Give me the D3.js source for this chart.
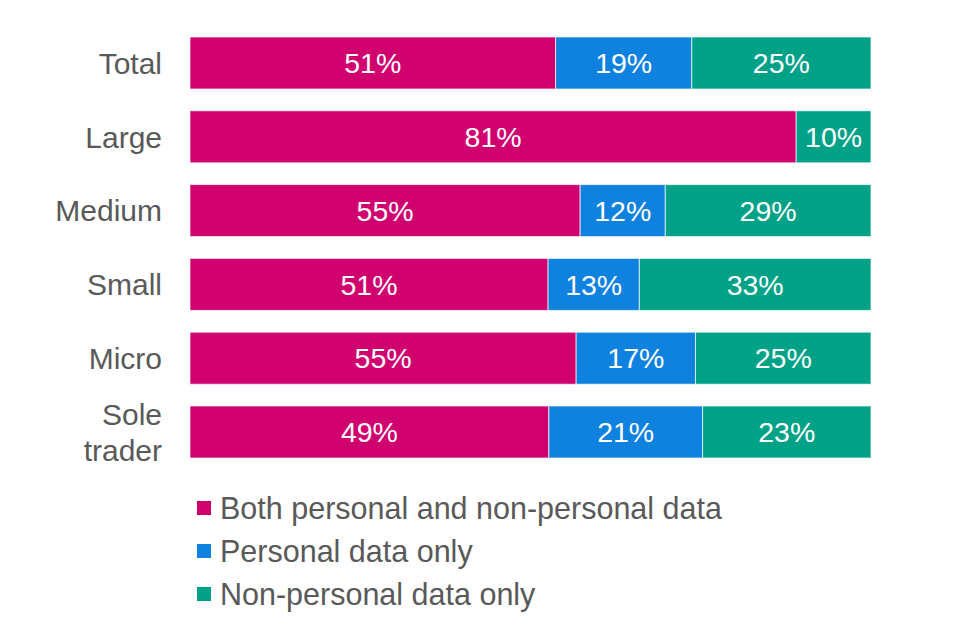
<!DOCTYPE html>
<html>
<head>
<meta charset="utf-8">
<script src="https://cdn.jsdelivr.net/npm/d3@7"></script>
<style>
  html, body { margin: 0; padding: 0; background: #ffffff; }
  svg { display: block; font-family: "Liberation Sans", Arial, sans-serif; }
</style>
</head>
<body>
<svg id="chart" width="960" height="640"></svg>
<script>
const categories = ["Total", "Large", "Medium", "Small", "Micro", "Sole trader"];
const seriesNames = ["Both personal and non-personal data", "Personal data only", "Non-personal data only"];
const bothValues = [51, 81, 55, 51, 55, 49];
const personalValues = [19, 0, 12, 13, 17, 21];
const nonPersonalValues = [25, 10, 29, 33, 25, 23];
const colors = ["#D0006F", "#0F81DF", "#00A287"];

const keys = ["both", "personal", "nonpersonal"];
const rows = categories.map((c, i) => ({
  category: c,
  both: bothValues[i],
  personal: personalValues[i],
  nonpersonal: nonPersonalValues[i]
}));

const svg = d3.select("#chart");
const x = d3.scaleLinear().domain([0, 1]).range([190, 871]);
const y = d3.scaleBand().domain(categories).range([26.1, 468.9])
  .paddingInner(0.295).paddingOuter(0.1475);
const color = d3.scaleOrdinal().domain(keys).range(colors);

const stack = d3.stack().keys(keys).offset(d3.stackOffsetExpand);
const series = stack(rows);

const g = svg.append("g");
series.forEach(s => {
  const layer = g.append("g").attr("fill", color(s.key));
  s.forEach((d, i) => {
    if (d[1] - d[0] <= 0) return;
    layer.append("rect")
      .attr("x", x(d[0]))
      .attr("y", y(d.data.category))
      .attr("width", x(d[1]) - x(d[0]))
      .attr("height", y.bandwidth())
      .attr("stroke", "rgba(255,255,255,0.7)")
      .attr("stroke-width", 1);
    layer.append("text")
      .attr("x", (x(d[0]) + x(d[1])) / 2)
      .attr("y", y(d.data.category) + y.bandwidth() / 2)
      .attr("dy", "0.36em")
      .attr("text-anchor", "middle")
      .attr("fill", "#ffffff")
      .attr("font-size", 28.5)
      .text(d.data[s.key] + "%");
  });
});

// Category labels (axis without line/ticks)
const axis = d3.axisLeft(y).tickSize(0).tickPadding(0);
const axisG = svg.append("g").attr("transform", "translate(162,0)").call(axis);
axisG.select(".domain").remove();
axisG.selectAll(".tick text").each(function(d) {
  const t = d3.select(this);
  t.text(null)
    .attr("fill", "#595959")
    .attr("font-size", 30)
    .attr("font-family", "Liberation Sans, Arial, sans-serif")
    .attr("text-anchor", "end")
    .attr("x", 0)
    .attr("dy", null);
  const words = d === "Sole trader" ? ["Sole", "trader"] : [d];
  const lh = 36;
  words.forEach((w, i) => {
    t.append("tspan")
      .attr("x", 0)
      .attr("y", (i - (words.length - 1) / 2) * lh)
      .attr("dy", "0.36em")
      .text(w);
  });
});

// Legend
const legend = svg.append("g");
const ly = d3.scalePoint().domain(seriesNames).range([508, 594]);
seriesNames.forEach((name, i) => {
  const row = legend.append("g").attr("transform", `translate(0,${ly(name)})`);
  row.append("rect")
    .attr("x", 197).attr("y", -7)
    .attr("width", 14).attr("height", 14)
    .attr("fill", colors[i]);
  row.append("text")
    .attr("x", 220).attr("y", 0).attr("dy", "0.36em")
    .attr("fill", "#595959")
    .attr("font-size", 30.5)
    .text(name);
});
</script>
</body>
</html>
